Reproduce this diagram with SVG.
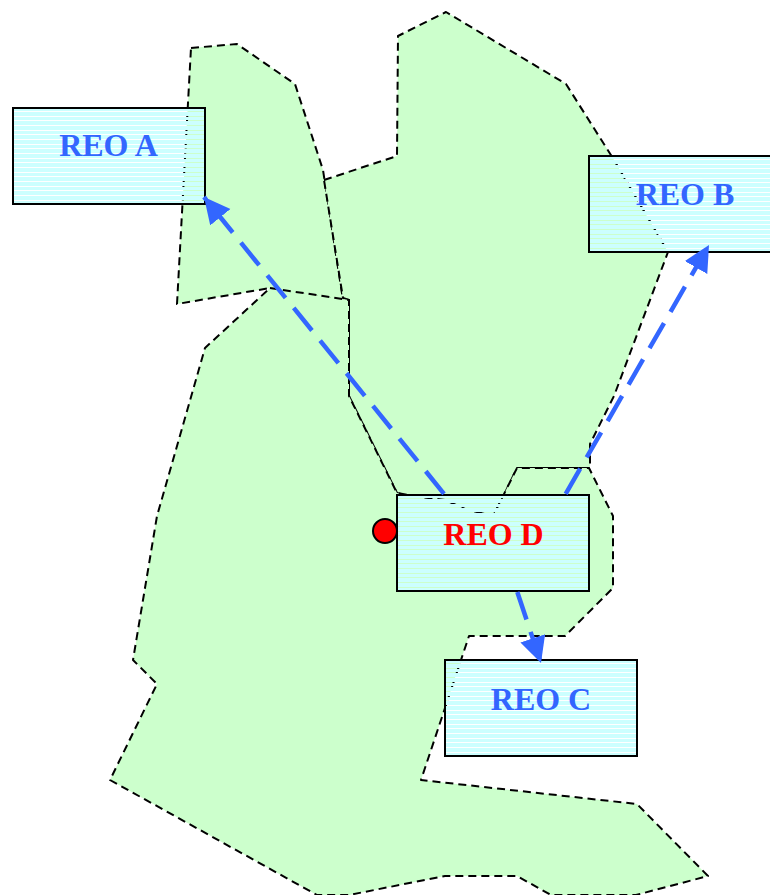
<svg xmlns="http://www.w3.org/2000/svg" width="770" height="895" viewBox="0 0 770 895">
<style>
.region{fill:#ccffcc;stroke:#000;stroke-width:2;stroke-dasharray:8 5;stroke-linejoin:round}
.box{fill:url(#stripes);stroke:#000;stroke-width:2}
.label{font-family:"Liberation Serif",serif;font-weight:bold;font-size:32px;text-anchor:middle;fill:#3366ff}
.conn{fill:none;stroke:#3366ff;stroke-width:4.500;stroke-dasharray:29 13;marker-end:url(#head)}
</style>
<defs>
<pattern id="stripes" patternUnits="userSpaceOnUse" x="0" y="0" width="14" height="14">
<path d="M0,0H14V3H0ZM0,4H14V8H0ZM0,9H14V12H0ZM0,13H14V14H0Z" fill="#ccffff"/>
</pattern>
<marker id="head" markerUnits="userSpaceOnUse" markerWidth="28" markerHeight="28" refX="26" refY="13" orient="auto">
<path d="M0,0L26,13L0,26Z" fill="#3366ff"/>
</marker>
</defs>
<g id="regions">
<polygon id="region-a" class="region" points="191,48 237,44 295,84 323,170 343,300 277,291 270,288 177,304"/>
<polygon id="region-b" class="region" points="324,180 397,156 398,36 446,12 566,84 614,160 668,252 614,396 590,444 590,468 517,468 499,505 493,516 397,493 349,396 349,300 343,298"/>
<polygon id="region-d" class="region" points="270,288 349,300 349,396 397,493 420,497 445,500 465,509 493,516 517,468 589,468 613,516 613,588 565,636 469,636 421,780 637,804 708,876 636,895 551,895 517,876 445,876 349,895 317,895 110,780 157,684 133,660 157,516 205,348"/>
</g>
<g id="reo-a"><rect class="box" transform="translate(13,108)" width="192" height="96"/><text class="label" x="108.500" y="156">REO A</text></g>
<g id="reo-b"><rect class="box" transform="translate(589,156)" width="192" height="96"/><text class="label" x="685" y="205">REO B</text></g>
<g id="reo-c"><rect class="box" transform="translate(445,660)" width="192" height="96"/><text class="label" x="541" y="710">REO C</text></g>
<g id="reo-d"><rect class="box" transform="translate(397,495)" width="192" height="96"/><circle cx="385" cy="531" r="12" fill="#ff0000" stroke="#000" stroke-width="2"/><text class="label" x="493.500" y="545" style="fill:#ff0000">REO D</text></g>
<g id="connectors">
<line class="conn" x1="444" y1="493.800" x2="204" y2="197"/>
<line class="conn" x1="565.700" y1="493.800" x2="709" y2="245"/>
<line class="conn" x1="517.300" y1="592" x2="541" y2="663"/>
</g>
</svg>
